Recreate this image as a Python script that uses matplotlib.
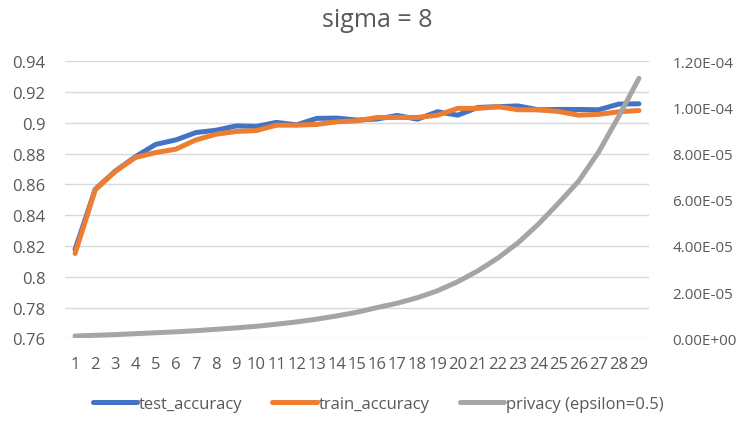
import numpy as np
import matplotlib
matplotlib.use("Agg")
import matplotlib.pyplot as plt
from matplotlib.ticker import FuncFormatter

# valores
epochs = list(range(1, 30))
test_accuracy = [0.8177, 0.8568, 0.8687, 0.8780, 0.8860, 0.8889, 0.8937, 0.8952, 0.8980, 0.8977,
                 0.9003, 0.8987, 0.9029, 0.9031, 0.9018, 0.9025, 0.9048, 0.9024, 0.9072, 0.9050,
                 0.9100, 0.9105, 0.9110, 0.9085, 0.9087, 0.9087, 0.9085, 0.9122, 0.9124]
train_accuracy = [0.8151, 0.8565, 0.8685, 0.8775, 0.8807, 0.8829, 0.8889, 0.8926, 0.8944, 0.8950,
                  0.8985, 0.8985, 0.8990, 0.9007, 0.9013, 0.9035, 0.9035, 0.9035, 0.9050, 0.9094,
                  0.9094, 0.9105, 0.9085, 0.9085, 0.9074, 0.9050, 0.9055, 0.9072, 0.9080]
privacy = [1.0e-6, 1.3e-6, 1.6e-6, 2.0e-6, 2.4e-6, 2.8e-6, 3.3e-6, 3.9e-6, 4.5e-6, 5.2e-6,
           6.1e-6, 7.1e-6, 8.3e-6, 9.7e-6, 1.13e-5, 1.33e-5, 1.52e-5, 1.76e-5, 2.06e-5, 2.45e-5,
           2.92e-5, 3.48e-5, 4.14e-5, 4.94e-5, 5.85e-5, 6.8e-5, 8.07e-5, 9.62e-5, 1.126e-4]
left_ticks = [0.76, 0.78, 0.8, 0.82, 0.84, 0.86, 0.88, 0.9, 0.92, 0.94]
right_ticks = [0, 2e-5, 4e-5, 6e-5, 8e-5, 1e-4, 1.2e-4]

plt.rcParams['font.family'] = ['Open Sans', 'DejaVu Sans']
txt = '#595959'

fig = plt.figure(figsize=(7.43, 4.39), dpi=100)
ax = fig.add_axes([65 / 743, 1 - 339.3 / 439, (649 - 65) / 743, (339.3 - 62.3) / 439])

l1, = ax.plot(epochs, test_accuracy, color='#4472C4', lw=3.6, solid_capstyle='round', label='test_accuracy')
l2, = ax.plot(epochs, train_accuracy, color='#ED7D31', lw=3.6, solid_capstyle='round', label='train_accuracy')
ax.set_ylim(0.76, 0.94)
ax.set_xlim(0.5, 29.5)
ax.set_yticks(left_ticks)
ax.yaxis.set_major_formatter(FuncFormatter(lambda v, p: f"{round(v, 2):g}"))
ax.set_xticks(epochs)
ax.grid(axis='y', color='#D9D9D9', lw=1)
ax.set_axisbelow(True)
ax.tick_params(length=0, labelsize=12, labelcolor=txt)
ax.tick_params(axis='y', pad=14)
ax.tick_params(axis='x', pad=13)
for s in ax.spines.values():
    s.set_visible(False)

ax2 = ax.twinx()
l3, = ax2.plot(epochs, privacy, color='#A5A5A5', lw=3.6, solid_capstyle='round', label='privacy (epsilon=0.5)')
ax2.set_ylim(0, 1.2e-4)
ax2.set_yticks(right_ticks)
ax2.yaxis.set_major_formatter(FuncFormatter(lambda v, p: f"{v:.2E}"))
ax2.tick_params(length=0, labelsize=11, labelcolor=txt, pad=17)
for s in ax2.spines.values():
    s.set_visible(False)

fig.text(377 / 743, 1 - 8 / 439, 'sigma = 8', ha='center', va='top', fontsize=18, color=txt)

fig.legend(handles=[l1, l2, l3], loc='center', bbox_to_anchor=(378 / 743, 1 - 405 / 439),
           ncol=3, frameon=False, fontsize=12, labelcolor=txt, handlelength=2.65,
           handletextpad=0.12, columnspacing=1.8)

fig.savefig('out.png', dpi=100)
